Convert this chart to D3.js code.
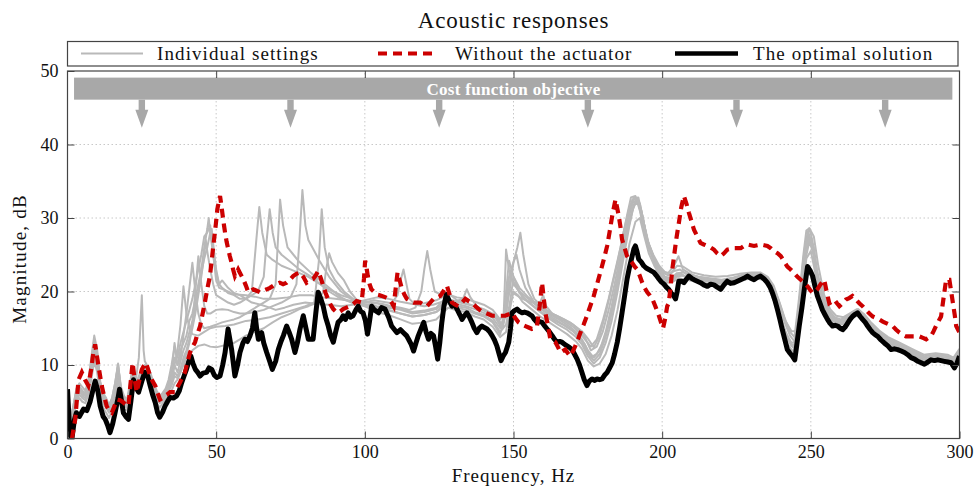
<!DOCTYPE html>
<html>
<head>
<meta charset="utf-8">
<script src="https://cdn.jsdelivr.net/npm/d3@7"></script>
<style>
  body { margin: 0; background: #fff; }
  svg text { font-family: "Liberation Serif", "DejaVu Serif", serif; fill: #111; }
</style>
</head>
<body>
<svg id="chart" width="974" height="488"></svg>
<script>
// ---- data ----
const xTicks = [0, 50, 100, 150, 200, 250, 300];
const yTicks = [0, 10, 20, 30, 40, 50];
const legendLabels = ["Individual settings", "Without the actuator", "The optimal solution"];
const costLabel = "Cost function objective";
const costBand = [2.2, 297.6];      // Hz
const costLevel = [46.1, 49.1];     // dB
const costArrows = [25, 75, 125, 175, 225, 275];

// the optimal solution [Hz, dB]
const optimal = [[0,6.7],[0.8,0.5],[1.5,0],[2.3,2.5],[3,3.5],[4,3],[5.4,4],[6.5,3.8],[7.6,5],[8.5,6.5],[9.3,7.8],[10.2,6.5],[11,4.4],[12,3],[12.7,2.6],[13.5,1.8],[14.3,0.8],[15.2,2],[16,3.5],[17,5.5],[17.5,6.7],[18.2,5],[18.8,3.5],[19.6,3],[20.5,2.6],[21.3,5],[22.2,8],[23,7],[23.9,6.3],[25,7.8],[26,9],[27,8.5],[27.8,7.2],[28.6,6],[29.5,4.9],[30.3,3.5],[31,2.9],[32,3.6],[32.8,4.4],[33.6,5],[34.5,5.6],[35.6,5.5],[36.7,5.8],[37.6,6.5],[38.4,7.6],[39.2,8.5],[40,9.4],[40.8,10.5],[41.5,11.2],[42.2,10.2],[43,9.4],[43.8,9],[44.6,8.5],[45.6,8.9],[46.8,9],[47.6,9.6],[48.5,9.4],[49.4,8.6],[50.2,8.3],[51.3,8.5],[52.2,10],[53,11.7],[54,14.9],[55.2,12.1],[56.3,8.5],[57.2,10],[58,11.7],[59,13],[59.7,13.5],[60.5,13.2],[61.4,14],[62.2,15],[63,17.1],[63.6,15],[64.2,13.5],[65.3,14.4],[66,13],[67,11.7],[68,10.5],[68.9,9.4],[70,10.5],[70.9,12.1],[71.8,13.2],[72.6,14],[73.7,15.3],[74.5,14.5],[75.4,13.5],[76.5,11.7],[77.3,13],[78.2,14.9],[79.3,16.7],[80.2,15],[81,13.5],[82.6,13.5],[83.5,17],[84.3,19.9],[85.2,19],[86,18],[86.8,16.5],[87.7,15.3],[88.5,14],[89.4,13.1],[90.2,14.5],[91,15.8],[92,16.2],[92.7,16.7],[93.5,16.2],[94.4,17.1],[95.2,16.5],[96,16.7],[97,17.5],[97.8,18],[98.6,17.3],[99.4,17.1],[100.2,16],[100.9,14.2],[101.6,16],[102.3,18],[103.2,17.5],[104.6,17.1],[105.6,17.8],[106.8,17.6],[108,16.5],[109,15.3],[110,14.8],[110.8,14.4],[112,14.8],[113,14.4],[114,14],[114.7,13.5],[115.6,12.8],[116.4,11.9],[117.2,13],[118,14],[119,15],[119.8,15.8],[120.6,14.5],[121.4,13.5],[122.2,14.3],[123.1,14],[123.8,12.5],[124.5,10.8],[125.2,13],[125.9,15.8],[126.6,18],[127.4,19.6],[128.3,18.8],[129.3,18],[130.2,18.2],[131,17.6],[132,16.8],[132.7,16.2],[133.5,16.7],[134.3,17.1],[135.2,16.5],[136,15.8],[136.8,15],[137.7,14.4],[138.5,15],[139.4,15.3],[140.2,15.1],[141.1,14.9],[142,14.5],[142.8,14],[143.6,13.4],[144.4,12.6],[145.1,11.6],[145.8,10.6],[146.5,11.2],[147.3,11.7],[148.4,13.1],[149,15],[149.5,17.1],[150.3,17.4],[151.2,17.6],[152,17.3],[152.9,17.1],[153.7,17.2],[154.5,17.1],[155.4,16.9],[156.2,16.7],[157,16.2],[157.9,15.8],[158.8,15.9],[159.6,15.8],[160.5,15.3],[161.3,14.9],[162.1,14.5],[163,14],[163.8,13.5],[164.6,13.1],[165.5,13.2],[166.3,13.1],[167.2,12.8],[168,12.6],[168.8,12.4],[169.7,12.1],[170.5,11.5],[171.4,10.8],[172.2,10],[173,9],[173.8,8],[174.7,7.2],[175.5,7.8],[176.4,8.1],[177.2,7.9],[178.1,8.1],[179,8],[179.8,8.1],[180.6,8.6],[181.5,9],[182.3,9.6],[183.2,10.3],[184,11.5],[184.9,13.1],[185.7,15],[186.5,17.1],[187.4,19.5],[188.2,21.7],[189,23.3],[189.9,24.8],[190.5,25.8],[191,26.2],[191.5,25.5],[192.1,24.4],[193,24],[193.8,23.5],[194.6,23.2],[195.5,23],[196.3,22.8],[197.2,22.6],[198,22.2],[198.9,21.7],[199.7,21.3],[200.6,21],[201.4,20.6],[202.2,20.3],[203,19.8],[203.9,19.4],[204.5,19],[205,19.9],[205.6,21.4],[206.5,21.4],[207.3,21.2],[208.2,21.7],[209,22.1],[209.9,21.8],[210.7,21.6],[211.8,21.4],[212.9,21.2],[214,20.9],[215.2,20.7],[216.3,21],[217.4,20.9],[218.5,20.6],[219.7,20.3],[220.8,20.9],[221.9,21.4],[223,21.1],[224.2,21.2],[225.3,21.4],[226.4,21.6],[227.5,21.8],[228.7,22.1],[229.8,21.8],[230.9,21.6],[232,21.9],[233.1,22.1],[234.3,21.7],[235.4,21.2],[236.3,20.6],[237.1,19.8],[238,18.7],[238.8,17.5],[239.6,16.2],[240.4,14.8],[241.3,13.4],[242.1,12.1],[243,11.6],[243.8,11.2],[244.6,10.7],[245.3,12.8],[246.1,15.3],[247,17.8],[247.8,20.3],[248.4,22],[248.9,23.4],[249.8,22.8],[250.6,22.1],[251.4,20.7],[252.2,19.4],[253.1,18.4],[253.9,17.5],[254.8,16.8],[255.6,16.2],[256.4,15.7],[257.3,15.3],[258.2,15.4],[259,15.3],[259.9,15],[260.7,14.8],[261.6,15.2],[262.4,15.7],[263.2,16.2],[264,16.6],[264.9,16.9],[265.7,17.1],[266.6,16.6],[267.4,16.2],[268.3,15.8],[269.1,15.3],[270,14.8],[270.8,14.4],[271.7,14.1],[272.5,13.9],[273.6,13.4],[274.7,13],[275.9,12.6],[277,12.1],[278.1,12.2],[279.2,12.1],[280.4,11.9],[281.5,11.7],[282.6,11.4],[283.7,11],[284.9,10.8],[286,10.5],[287.1,10.3],[288.2,10.1],[289.3,10.4],[290.4,10.7],[291.6,10.6],[292.7,10.7],[293.8,10.6],[294.9,10.5],[296.1,10.4],[297.2,10.3],[298.3,9.6],[299.2,10.3],[300,11.2]];

// without the actuator [Hz, dB]
const without = [[1.5,0],[2.6,2.6],[3.2,5.5],[3.7,8],[4.8,9],[5.9,8],[7,7.2],[8,9.5],[8.7,11.7],[9.3,12.8],[10.4,9.9],[11.5,7.2],[12.3,5.8],[13.2,4.4],[14,3.8],[14.9,3.5],[15.8,4.4],[16.6,5.3],[17.7,5.2],[18.8,4.9],[19.6,4.6],[20.5,4.4],[21.2,7.5],[21.9,10.3],[22.6,8],[23.3,6.3],[24.2,8],[25,9.4],[25.7,9.9],[26.4,10.3],[27.1,9.4],[27.8,8.5],[28.6,7.8],[29.5,7.2],[30.3,6.2],[31.1,5.3],[32,5.5],[32.8,5.8],[33.6,6],[34.5,6.3],[35.4,6.3],[36.2,6.3],[37,7],[37.8,7.6],[38.6,8.3],[39.5,9],[40.3,10.3],[41.2,11.7],[42,12.4],[42.9,13.1],[43.7,14.2],[44.6,15.3],[45.4,16.9],[46.2,18.5],[47,20.3],[47.9,22.1],[48.6,24.6],[49.3,27.1],[49.9,29.2],[50.4,31.2],[50.9,32.2],[51.3,33],[51.8,31.6],[52.2,30.3],[52.6,29.1],[53,28],[53.5,26.8],[54.1,25.7],[54.6,24.8],[55.2,23.9],[55.7,23],[56.3,22.1],[56.9,22.6],[57.4,23],[58.3,22.3],[59.1,21.7],[60,20.8],[60.8,19.9],[61.6,20.1],[62.5,20.3],[63.6,20.1],[64.7,19.9],[65.8,20.1],[67,20.3],[68.1,20.5],[69.2,20.8],[70.3,21],[71.4,21.2],[72.5,21],[73.7,21.2],[74.8,21.6],[75.9,22.1],[77,22.4],[78.2,22.6],[79.3,22],[80.4,21.2],[81.5,21.5],[82.6,21.7],[83.5,22.2],[84.3,22.8],[85.2,21.8],[86,20.8],[86.8,19.8],[87.7,18.9],[88.5,18.2],[89.4,17.6],[90.2,17.3],[91,17.1],[91.8,17.3],[92.7,17.6],[93.8,17.8],[95,18],[96.1,18.3],[97.2,18.7],[98,18.6],[98.9,18.5],[99.3,20],[99.7,21.7],[100.1,24.2],[100.5,23.5],[101,22.1],[101.6,21],[102.2,20.3],[103,20],[104,19.6],[105,19.5],[105.7,19.4],[107,19.2],[108,19],[109,18.5],[109.7,18],[110.4,20.5],[111,22.6],[111.8,21.4],[112.5,20.3],[113.3,19.6],[114.1,19],[115.3,18.7],[116.4,18.5],[117.5,18.5],[118.6,18.5],[119.8,18.2],[120.9,18],[122,18.5],[123.1,19],[124.2,19.2],[125.4,19.4],[126.5,20.1],[127.6,20.8],[128.5,19.6],[129.3,18.5],[130.4,18.2],[131.5,18],[132.7,18.5],[133.8,19],[134.9,18.7],[136,18.5],[137.2,18],[138.3,17.6],[139.4,17.3],[140.5,17.1],[141.7,16.9],[142.8,16.7],[143.9,16.7],[145,16.7],[146.1,16.7],[147.2,16.7],[148.4,16.9],[149.5,17.1],[150.6,16.4],[151.7,15.8],[152.9,15.5],[154,15.3],[155.1,15.1],[156.2,14.9],[157.1,15],[157.9,15.3],[158.8,18],[159.6,21.2],[160.2,19],[160.7,17.1],[161.6,15.3],[162.4,13.5],[163.3,13.3],[164.1,13.1],[165,12.4],[165.8,11.7],[166.6,11.9],[167.4,12.1],[168.3,11.6],[169.1,11.2],[170,11.9],[170.8,12.6],[171.7,13.5],[172.5,14.4],[173.6,15.5],[174.7,16.7],[175.8,18],[177,19.4],[178.1,21],[179.2,22.6],[180.4,24.4],[181.5,26.2],[182.4,28.3],[183.2,30.3],[183.8,31.5],[184.3,32.5],[184.8,31.5],[185.4,30.3],[186,28.7],[186.5,27.1],[187.4,25.9],[188.2,24.8],[189,24.3],[189.9,23.9],[190.7,23.4],[191.6,23],[192.5,22.1],[193.3,21.2],[194.1,20.5],[195,19.9],[195.8,19.5],[196.7,19],[197.8,17.9],[198.9,16.7],[199.6,15.8],[200.3,15],[201,16.3],[201.7,18],[202.2,18.4],[202.8,20.5],[203.4,23],[204,24.8],[204.7,27],[205.6,29.3],[206.4,31.4],[207.3,33],[208.2,31.9],[209,30.7],[209.9,29.5],[210.7,28.4],[211.8,27.5],[212.9,26.6],[214,26.4],[215.2,26.2],[216.3,26],[217.4,25.7],[218.5,25.2],[219.7,24.8],[220.8,25.2],[221.9,25.7],[223,25.8],[224.2,25.9],[225.3,25.9],[226.4,25.9],[227.5,26.2],[228.7,26.4],[229.8,26.3],[230.9,26.2],[232,26.3],[233.1,26.4],[234.3,26.3],[235.4,26.2],[236.5,25.9],[237.6,25.5],[238.8,25.2],[239.9,24.8],[241,24.1],[242.1,23.4],[243.2,23],[244.4,22.5],[245.5,22],[246.6,21.6],[247.7,21.2],[248.9,20.7],[249.8,20.2],[250.6,19.8],[251.4,20],[252.2,20.3],[253.3,21],[254.5,21.6],[255.3,20],[256.2,18.4],[257,18.6],[257.9,18.9],[258.8,18.4],[259.6,18],[260.7,18.4],[261.8,18.9],[262.9,19.1],[264,19.4],[265.2,18.9],[266.3,18.4],[267.4,18],[268.5,17.5],[269.7,17],[270.8,16.6],[271.9,16.4],[273,16.2],[274.2,15.9],[275.3,15.7],[276.4,15.5],[277.5,15.3],[278.7,14.8],[279.8,14.4],[280.9,14.1],[282,13.9],[283.2,13.9],[284.3,13.9],[285.4,13.9],[286.5,13.9],[287.7,13.7],[288.8,13.5],[289.6,13.7],[290.4,13.9],[291.3,14.6],[292.1,15.3],[293,16],[293.8,16.6],[294.6,19],[295.5,21.6],[296.6,21.6],[297.2,20],[297.8,18.4],[298.4,16.8],[298.9,15.3],[300,14.4]];

// individual settings [Hz, dB]
const setting1 = [[0,5],[1,2.5],[2,4.5],[3,6.5],[4,7],[5,6.5],[6,6.2],[7,7.5],[8,10.5],[9,13.5],[10,11.5],[11,7.5],[12,6],[13,5.2],[14,4.2],[15,5],[16,7],[17,10],[18,6.5],[19,5.5],[20,5],[21,7],[22,9.5],[23,7.5],[24,8.5],[25,9.5],[26,10],[27,9.5],[28,8.5],[29,7.2],[30,6.2],[31,5.5],[32,6],[33,6.5],[34,7.5],[35,9],[36,11],[37,10],[38,12],[39,13],[40,14],[41,16],[42,17],[43,19],[44,21],[45,23],[46,26],[47,28.5],[47.5,30],[48,28],[49,25],[50,22.5],[51,21],[52,21.5],[54,20.5],[56,19.8],[58,19.5],[60,19],[62,18.5],[65,18.2],[68,17.8],[70,17.5],[73,17.8],[76,18.2],[80,18.5],[84,18.3],[88,18.2],[92,18],[96,18.2],[100,18.5],[103,18.8],[106,18.6],[109,18.4],[111,19.5],[112,21.5],[113,23],[114,21],[115,19],[117,18.2],[120,18],[123,18.2],[126,18.6],[128,19],[131,18.6],[134,18.3],[137,18],[140,17.5],[143,16.8],[145,16],[146.5,15],[147,20],[147.5,25.7],[148.5,23],[150,21],[152,20],[155,19],[158,18],[161,17.2],[164,16.5],[167,16],[170,15.2],[172,14.5],[174,13.5],[176,12.5],[178,13.5],[180,16],[182,19],[184,22.5],[186,26],[188,30],[189.5,32.8],[191,33],[192.5,31],[194,28],[196,25.5],[198,24],[200,22.8],[202,22.5],[204,23.5],[205.5,24.8],[207,23],[209,22.5],[212,22],[216,21.8],[220,21.6],[224,21.9],[228,22.4],[232,22.5],[235,22],[237,21],[239,19],[241,16.5],[243,14.5],[244.5,13.8],[246,19],[247.5,25],[248.5,28.3],[249.5,28.6],[250.5,27],[252,23],[254,19.5],[256,17.5],[258,16.5],[260,16.2],[262,16.5],[264,17.2],[266,17.6],[268,16.8],[270,15.8],[273,14.6],[276,13.6],[280,12.8],[284,12],[288,11.2],[292,11.4],[296,11.2],[298,10.8],[300,12]];
const setting2 = [[0,4],[1,1.5],[2,4],[3,6],[4,6.8],[5,6],[6,5.8],[7,7],[8,9.5],[9,12.5],[10,10.8],[11,7],[12,5.5],[13,4.8],[14,4],[15,4.8],[16,6.5],[17,9],[18,6],[19,5],[20,4.6],[21,6.5],[22,9],[23,7],[24,8],[25,9],[26,9.5],[27,9],[28,8],[29,7],[30,6],[31,5.2],[32,5.6],[33,6.2],[34,7],[35,8],[36,10],[37,9],[38,10.5],[39,12],[40,13],[41,14.5],[42,16],[43,18],[44,20],[45,22.5],[46,24.5],[47,26],[48,28],[48.5,28.5],[49,26.5],[50,23],[51,21],[52,20.5],[54,19.8],[56,19.5],[58,19],[60,19],[62,20],[63.5,27],[64.5,31.5],[65.5,28],[67,25],[69,24.3],[72,23.5],[75,23],[78,22.5],[81,22],[85,21],[88,20.3],[92,19.5],[96,19],[100,18.6],[103,18.5],[106,18.3],[109,18],[112,17.8],[115,17.5],[117,17.8],[119,20],[120,23],[121,25.5],[122,23],[123.5,20],[126,19.5],[128,19.8],[131,18.8],[134,18.4],[137,18],[140,17.6],[143,17],[145,16.2],[146.5,15.2],[147.3,19],[148.5,24.2],[150,22],[152,20.5],[155,19.2],[158,18.2],[161,17.5],[164,16.8],[167,16.2],[170,15.5],[172,14.8],[174,13.8],[176,12],[178,12.5],[180,14.5],[182,17.5],[184,21],[186,25],[188,29],[190,32.5],[191.5,32.8],[193,30.5],[194.5,27.5],[196,25.5],[198,24],[200,22.6],[202,22.2],[204,22.8],[206,23],[208,22.4],[212,22],[216,21.7],[220,21.5],[224,21.8],[228,22.3],[232,22.4],[235,21.8],[237,20.5],[239,18.5],[241,16],[243,14],[244.5,13.2],[246,18],[247.5,24.5],[249,28.2],[250.5,26.5],[252,22.5],[254,19],[256,17.2],[258,16.3],[260,16],[262,16.4],[264,17],[266,17.4],[268,16.6],[270,15.6],[273,14.4],[276,13.4],[280,12.6],[284,11.8],[288,11],[292,11.2],[296,11],[298,10.6],[300,11.8]];
const setting3 = [[0,3.5],[1,1],[2,3.5],[3,5.5],[4,6.5],[5,5.8],[6,5.5],[7,6.5],[8,9],[9,12],[10,10],[11,6.5],[12,5],[13,4.5],[14,3.8],[15,4.5],[16,6],[17,8.5],[18,5.5],[19,4.8],[20,4.4],[21,6],[22,8.5],[23,6.8],[24,7.6],[25,8.6],[26,9.2],[27,8.6],[28,7.6],[29,6.6],[30,5.6],[31,5],[32,5.4],[33,6],[34,6.6],[35,7.5],[36,9],[37,8.5],[38,9.5],[39,11],[40,12],[41,13.5],[42,15],[43,17],[44,19.5],[45,22],[46,25],[46.5,27],[47,25.5],[48,23],[49,21],[50,19.5],[52,19],[54,18.5],[56,18.2],[58,18.5],[60,19],[62,19.5],[64,20],[66,22],[67,27],[68,31.2],[69,28],[70,26],[72,25],[75,24],[78,23],[82,22],[85,21],[88,20],[92,19],[96,18.5],[100,18.2],[104,18.4],[108,18],[112,17.6],[116,17.2],[120,17.4],[124,17.8],[127,19],[130,18.6],[133,19],[134.3,20.3],[135.5,19.2],[138,17.8],[141,17.2],[144,16.4],[146,15],[147.5,17],[149,22],[150.5,21],[152,19.8],[155,18.6],[158,17.6],[161,16.8],[164,16],[167,15.4],[170,14.6],[172,13.8],[174,12.8],[176,11],[178,11.5],[180,13],[182,15.5],[184,19],[186,23],[188,27.5],[190,31],[191.5,32.5],[193,31],[194.5,28],[196,25.5],[198,23.5],[200,22],[202,21.5],[204,22],[206,22.5],[208,22],[212,21.8],[216,21.5],[220,21.2],[224,21.6],[228,22.2],[232,22.2],[235,21.5],[237,20],[239,17.5],[241,15],[243,13],[244.5,12.5],[246,17],[247.5,23.5],[249,27.5],[250.5,26],[252,22],[254,18.6],[256,16.8],[258,16],[260,15.8],[262,16.2],[264,16.8],[266,17.2],[268,16.4],[270,15.4],[273,14.2],[276,13.2],[280,12.4],[284,11.6],[288,10.8],[292,11],[296,10.8],[298,10.4],[300,11.6]];
const setting4 = [[0,3],[1,0.5],[2,3],[3,5],[4,6],[5,5.5],[6,5.2],[7,6.2],[8,8.5],[9,11.5],[10,9.5],[11,6],[12,4.8],[13,4.2],[14,3.5],[15,4.2],[16,5.6],[17,8],[18,5.2],[19,4.5],[20,4.2],[21,5.8],[22,8.2],[23,6.5],[24,7.4],[25,8.4],[26,9],[27,8.4],[28,7.4],[29,6.4],[30,5.4],[31,4.8],[32,5.2],[33,5.8],[34,6.4],[35,7.2],[36,8.5],[37,8.2],[38,9],[39,10.5],[40,11.5],[41,13],[42,15.5],[43,20],[44,24.8],[45,21],[46,18],[47,17],[48,17],[50,17.5],[52,17.6],[54,17.5],[56,17.2],[58,17],[60,17],[62,17.5],[64,18],[66,18.5],[68,19],[70,21],[71.5,32.5],[72.5,29],[74,26],[76,25],[78,24],[82,22.5],[85,21.5],[88,20.5],[92,19.2],[96,18.4],[100,18],[104,17.8],[108,17.5],[112,17],[116,16.6],[120,16.8],[124,17.2],[128,18.6],[131,18],[134,17.8],[137,17.2],[140,16.8],[143,16],[145.5,14.5],[147.5,15.5],[149,19],[150,22],[151.5,20.5],[153,19.2],[156,18.2],[159,17.2],[162,16.3],[165,15.5],[168,14.8],[171,13.8],[173,12.8],[175,11.2],[177,10.2],[179,11],[181,13],[183,16],[185,20],[187,24.5],[189,29],[190.5,31.8],[192,32],[193.5,29.5],[195,26.5],[197,24.3],[199,22.6],[201,21.5],[203,21.4],[205,22],[207,22.2],[210,21.8],[214,21.5],[218,21.2],[222,21.4],[226,21.8],[230,22],[233,22],[235.5,21],[237.5,19.2],[239.5,16.8],[241.5,14.2],[243.5,12.6],[245,12.8],[246.5,18],[248,24],[249.5,26.8],[251,25],[252.5,21],[254.5,18],[256.5,16.4],[258.5,15.8],[261,15.7],[263,16.3],[265.5,17],[268,16.2],[270,15.2],[273,14],[276,13],[280,12.2],[284,11.4],[288,10.7],[292,10.9],[296,10.7],[298,10.3],[300,11.4]];
const setting5 = [[0,4.5],[1,2],[2,4],[3,6],[4,7],[5,6.3],[6,6],[7,7.2],[8,10],[9,13],[10,11],[11,7.2],[12,5.8],[13,5],[14,4.5],[15,5.5],[16,7.5],[17,10.2],[18,6.5],[19,5.5],[20,5],[21,6.8],[22,9],[23,7.2],[24,8.2],[25,9.2],[26,9.8],[27,9.2],[28,8.2],[29,7],[30,6],[31,5.4],[32,5.8],[33,6.4],[34,7.2],[35,8.5],[36,13],[37,10],[38,11],[39,14],[40,17],[41,20.5],[42,23.9],[43,20],[44,17],[45,15.5],[46,15],[48,15.2],[50,15.5],[52,15.8],[54,16],[56,16.2],[58,16.5],[60,17],[63,17.2],[66,17.5],[69,18],[72,18.5],[75,19.2],[77,21],[78,27],[79,33.8],[80,29],[81,27],[83,25.5],[85,24],[88,22],[92,20],[96,18.8],[100,18.3],[104,18],[108,17.8],[112,17.5],[116,17],[120,17.2],[124,17.6],[128,18.8],[131,18.3],[134,18],[137,17.6],[140,17.1],[143,16.4],[145.5,15],[147,17],[148.5,22],[150,24],[151.3,26],[152.3,28],[153.3,25],[155,21],[157,19],[160,17.8],[163,16.8],[166,16],[169,15.2],[171,14.5],[173,13.5],[175,12],[177,11],[179,12],[181,14.5],[183,18],[185,22],[187,26.5],[189,30.5],[190.5,32.5],[192,32.8],[193.5,30],[195,27],[197,24.8],[199,23],[201,22],[203,21.8],[205,22.5],[207,22.6],[210,22.2],[214,21.8],[218,21.4],[222,21.6],[226,22],[230,22.3],[233,22.2],[235.5,21.2],[237.5,19.5],[239.5,17],[241.5,14.5],[243.5,13],[245,13.2],[246.5,18.5],[248,25],[249.5,27.5],[251,26],[252.5,21.5],[254.5,18.3],[256.5,16.6],[258.5,16],[261,15.9],[263,16.5],[265.5,17.2],[268,16.4],[270,15.4],[273,14.2],[276,13.2],[280,12.4],[284,11.6],[288,10.9],[292,11.1],[296,10.9],[298,10.5],[300,11.6]];
const setting6 = [[0,5.5],[1,2],[2,4.2],[3,6.2],[4,7],[5,6.4],[6,6],[7,7.2],[8,10],[9,12.8],[10,10.8],[11,7],[12,5.6],[13,4.8],[14,4],[15,5],[16,6.8],[17,9.5],[18,6],[19,5.2],[20,4.8],[21,6.5],[22,8.8],[23,7],[24,8],[25,9],[26,9.5],[27,9],[28,8],[29,6.8],[30,5.8],[31,5.2],[32,5.6],[33,6.2],[34,7],[35,8],[36,10],[37,12],[38,15.5],[39,20.7],[40,17],[41,15],[42,14.2],[44,14],[46,14.5],[48,15],[50,15.2],[53,15.3],[56,15.5],[60,16],[64,16.2],[68,16.5],[72,17],[76,17.5],[80,18],[83,18.5],[84.5,24],[85.5,31.2],[86.5,26],[88,23],[90,21.5],[93,20],[96,19],[100,18.2],[104,17.8],[108,17.4],[112,17],[116,16.6],[120,16.8],[124,17.2],[128,18.4],[131,17.8],[134,17.5],[137,17],[140,16.6],[143,15.8],[145.5,14.2],[147.5,17],[149,21],[150,24],[151,25],[152,23],[154,20.5],[157,18.5],[160,17.4],[163,16.5],[166,15.7],[169,15],[171,14.2],[173,13.2],[175,11.6],[177,10.6],[179,11.5],[181,13.8],[183,17],[185,21],[187,25.5],[189,29.8],[191,32.4],[192.5,32],[194,29],[195.5,26.5],[197.5,24.3],[199.5,22.6],[201.5,21.7],[203.5,21.8],[205.5,22.3],[208,22],[211,21.7],[215,21.4],[219,21.1],[223,21.5],[227,21.9],[231,22.1],[234,21.9],[236,20.8],[238,18.6],[240,16],[242,13.6],[244,12.4],[245.5,14],[247,21],[248.5,26.5],[250,27.2],[251.5,24],[253,20],[255,17.4],[257,16.2],[259,15.8],[261.5,15.8],[263.5,16.5],[265.5,17],[268,16.1],[270,15.1],[273,13.9],[276,12.9],[280,12.1],[284,11.3],[288,10.6],[292,10.8],[296,10.6],[298,10.2],[300,11.3]];
const setting7 = [[0,3],[1,1],[2,3],[3,4.8],[4,5.5],[5,5],[6,4.8],[7,6],[8,8],[9,10.5],[10,9],[11,5.5],[12,4.2],[13,3.5],[14,2.8],[15,3.8],[16,5],[17,7.5],[18,4.8],[19,4],[20,3.8],[21,5.5],[22,8],[23,6.5],[24,7.2],[25,8.2],[26,9],[27,8.2],[28,7],[29,5.8],[30,4.8],[31,4.2],[32,4.8],[33,5.4],[34,5.9],[35,6.5],[36,7.5],[37,8],[38,9],[39,10],[40,11],[42,12],[44,12.6],[46,12.8],[48,12.5],[50,12.4],[52,12.6],[54,12.8],[56,13],[58,13.5],[60,14],[63,14.5],[66,15],[69,15.8],[72,16.5],[75,17],[78,17.6],[81,18],[84,18.5],[86,20],[87,23],[88,25.2],[89,24],[91,22.5],[93,21.5],[95,20],[97,19],[100,18],[104,17.2],[108,16.8],[112,16.2],[116,15.6],[120,15.8],[124,16.2],[128,17.8],[131,17.4],[134,17.2],[137,16.6],[140,16.2],[143,15.2],[145.5,13.8],[147.5,14.5],[149,18],[150,20],[151.5,19.5],[153,18.6],[156,17.6],[159,16.6],[162,15.8],[165,15],[168,14.2],[171,13.2],[173,12.2],[175,10.6],[177,9.8],[179,10.2],[181,11.5],[183,14],[185,17.5],[187,22],[189,26.5],[191,29.5],[192.5,30],[194,27.5],[195.5,25.2],[197.5,23.4],[199.5,22],[201.5,21.2],[203.5,21.3],[205.5,21.8],[208,21.6],[211,21.4],[215,21.1],[219,20.8],[223,21.2],[227,21.6],[231,21.8],[234,21.6],[236,20.4],[238,18.2],[240,15.5],[242,13],[244,11.8],[245.5,13.2],[247,19],[248.5,24.5],[250,25.5],[251.5,22.5],[253,19.2],[255,17],[257,16],[259,15.6],[261.5,15.5],[263.5,16.2],[265.5,16.8],[268,15.9],[270,14.9],[273,13.7],[276,12.7],[280,11.9],[284,11.1],[288,10.4],[292,10.6],[296,10.5],[298,10],[300,11.2]];
const setting8 = [[0,6],[1,2.5],[2,4.5],[3,6.8],[4,7.5],[5,7],[6,6.5],[7,7.8],[8,11],[9,14],[10,12],[11,7.8],[12,6.2],[13,5.5],[14,4.5],[15,5.5],[16,7.5],[17,10],[18,7],[19,5.8],[20,5.2],[21,7.5],[22,9.8],[23,8],[24,11],[25,19.5],[25.6,12],[26,10.5],[27,9.8],[28,8.8],[29,7.5],[30,6.5],[31,5.8],[32,6.2],[33,6.8],[34,8],[35,10],[36,12.5],[37,11],[38,13],[39,14.5],[40,16],[41,17.5],[42,19],[43,21],[44,23],[45,25],[46,27.5],[47,28],[48,29],[49,25],[50,21.5],[51,20.5],[53,20.2],[55,19.8],[57,19.6],[60,19.5],[63,19.3],[66,19],[70,19],[74,19.2],[78,19.5],[82,19.5],[86,19.2],[90,19],[94,18.8],[98,18.6],[100,18.8],[104,19.2],[108,19],[112,18.6],[116,18.3],[120,18.4],[124,18.8],[128,19.6],[131,19.2],[134,19],[137,18.6],[140,18.2],[143,17.5],[145.5,16.2],[147,17],[148,21],[149,20],[151,19.5],[153,19],[156,18.5],[159,18.6],[160,19.5],[161,18],[163,17],[166,16.4],[169,15.8],[171,15.2],[173,14.6],[175,13.6],[177,12.4],[179,14],[181,17],[183,20.5],[185,24],[187,28],[189,31.5],[190.5,32.8],[192,32.2],[193.5,30],[195,27],[197,25],[199,23.5],[201,22.6],[203,22.5],[205,23.5],[207,23.4],[210,22.6],[214,22.2],[218,22],[222,22.1],[226,22.4],[230,22.6],[233,22.6],[235.5,22],[237.5,20.8],[239.5,18.5],[241.5,16],[243.5,14.6],[245,14.6],[246.5,20],[248,26],[249.5,28.6],[251,27.5],[252.5,23.5],[254.5,19.5],[256.5,17.6],[258.5,16.7],[261,16.5],[263,17],[265.5,17.6],[268,16.9],[270,15.9],[273,14.7],[276,13.8],[280,13],[284,12.2],[288,11.4],[292,11.6],[296,11.4],[298,11],[300,12.2]];
const settings = [setting1, setting2, setting3, setting4, setting5, setting6, setting7, setting8];

// ---- layout ----
const svg = d3.select("#chart");
const x = d3.scaleLinear().domain([0, 300]).range([67.5, 959.5]);
const y = d3.scaleLinear().domain([0, 50]).range([438.5, 71]);
const frameColor = "#444";

svg.append("defs").append("clipPath").attr("id", "plotClip")
  .append("rect")
  .attr("x", x(0)).attr("y", y(50))
  .attr("width", x(300) - x(0)).attr("height", y(0) - y(50));

// grid
const grid = svg.append("g").attr("class", "grid");
grid.selectAll("line.vx").data(xTicks.slice(1, -1)).enter().append("line")
  .attr("x1", d => x(d)).attr("x2", d => x(d))
  .attr("y1", y(0)).attr("y2", y(50))
  .attr("stroke", "#c8c8c8").attr("stroke-width", 1).attr("stroke-dasharray", "1.5,2.5");
grid.selectAll("line.hy").data(yTicks.slice(1, -1)).enter().append("line")
  .attr("x1", x(0)).attr("x2", x(300))
  .attr("y1", d => y(d)).attr("y2", d => y(d))
  .attr("stroke", "#c8c8c8").attr("stroke-width", 1).attr("stroke-dasharray", "1.5,2.5");

// cost function objective band
const cost = svg.append("g").attr("class", "cost");
cost.append("rect")
  .attr("x", x(costBand[0])).attr("y", y(costLevel[1]))
  .attr("width", x(costBand[1]) - x(costBand[0]))
  .attr("height", y(costLevel[0]) - y(costLevel[1]))
  .attr("fill", "#a8a8a8");
cost.append("text")
  .attr("x", x(150)).attr("y", y(costLevel[0]) - 5)
  .attr("text-anchor", "middle")
  .style("font-weight", "bold").style("font-size", "17px").style("letter-spacing", "0.3px")
  .style("fill", "#fff")
  .text(costLabel);
cost.selectAll("path.arrow").data(costArrows).enter().append("path")
  .attr("class", "arrow")
  .attr("fill", "#a8a8a8")
  .attr("d", d => {
    const cx = x(d), top = y(costLevel[0]);
    return `M${cx - 3.2},${top} L${cx + 3.2},${top} L${cx + 3.2},${top + 10} L${cx + 6.5},${top + 10}`
      + ` L${cx},${top + 28} L${cx - 6.5},${top + 10} L${cx - 3.2},${top + 10} Z`;
  });

// curves
const line = d3.line().x(d => x(d[0])).y(d => y(d[1]));
const curves = svg.append("g").attr("clip-path", "url(#plotClip)");

curves.selectAll("path.setting").data(settings).enter().append("path")
  .attr("class", "setting")
  .attr("d", line)
  .attr("fill", "none").attr("stroke", "#b9b9b9").attr("stroke-width", 2)
  .attr("stroke-linejoin", "round");

curves.append("path").datum(optimal)
  .attr("d", line)
  .attr("fill", "none").attr("stroke", "#000").attr("stroke-width", 5)
  .attr("stroke-linejoin", "round");

curves.append("path").datum(without)
  .attr("d", line)
  .attr("fill", "none").attr("stroke", "#cc0000").attr("stroke-width", 4.2)
  .attr("stroke-dasharray", "9,6");

// axes (ticks pointing inwards)
const xAxis = d3.axisBottom(x).tickValues(xTicks).tickSize(-7).tickPadding(7);
const yAxis = d3.axisLeft(y).tickValues(yTicks).tickSize(-7).tickPadding(9);

function styleAxis(g) {
  g.select(".domain").remove();
  g.selectAll(".tick line").attr("stroke", frameColor);
  g.selectAll(".tick text").style("font-size", "18px").style("font-family", '"Liberation Serif", serif').attr("fill", "#111");
}

svg.append("g").attr("transform", `translate(0,${y(0)})`).call(xAxis).call(styleAxis);
svg.append("g").attr("transform", `translate(${x(0)},0)`).call(yAxis).call(styleAxis);
svg.append("g").attr("transform", `translate(0,${y(50)})`)
  .call(d3.axisTop(x).tickValues(xTicks.slice(1, -1)).tickSize(-7).tickFormat(""))
  .call(styleAxis);
svg.append("g").attr("transform", `translate(${x(300)},0)`)
  .call(d3.axisRight(y).tickValues(yTicks.slice(1, -1)).tickSize(-7).tickFormat(""))
  .call(styleAxis);

// frame
svg.append("rect")
  .attr("x", x(0)).attr("y", y(50))
  .attr("width", x(300) - x(0)).attr("height", y(0) - y(50))
  .attr("fill", "none").attr("stroke", frameColor).attr("stroke-width", 1.2);

// title and axis labels
svg.append("text").attr("x", x(150)).attr("y", 28)
  .attr("text-anchor", "middle").style("font-size", "23px").style("letter-spacing", "0.8px")
  .text("Acoustic responses");
svg.append("text").attr("x", x(150)).attr("y", 482)
  .attr("text-anchor", "middle").style("font-size", "19px").style("letter-spacing", "1px")
  .text("Frequency, Hz");
svg.append("text").attr("transform", `translate(26,259) rotate(-90)`)
  .attr("text-anchor", "middle").style("font-size", "19px").style("letter-spacing", "1.2px")
  .text("Magnitude, dB");

// legend
const legend = svg.append("g").attr("class", "legend");
legend.append("rect")
  .attr("x", x(0)).attr("y", 41.5)
  .attr("width", x(300) - x(0) - 1.5).attr("height", 24.5)
  .attr("fill", "#fff").attr("stroke", frameColor).attr("stroke-width", 1.2);

const legendItems = [
  { label: legendLabels[0], x0: 81, x1: 143, tx: 157, stroke: "#b9b9b9", width: 2, dash: null },
  { label: legendLabels[1], x0: 378, x1: 436, tx: 455, stroke: "#cc0000", width: 4.2, dash: "9,6" },
  { label: legendLabels[2], x0: 675, x1: 738, tx: 753, stroke: "#000", width: 4.6, dash: null }
];
const item = legend.selectAll("g.item").data(legendItems).enter().append("g").attr("class", "item");
item.append("line")
  .attr("x1", d => d.x0).attr("x2", d => d.x1).attr("y1", 53.5).attr("y2", 53.5)
  .attr("stroke", d => d.stroke).attr("stroke-width", d => d.width)
  .attr("stroke-dasharray", d => d.dash);
item.append("text")
  .attr("x", d => d.tx).attr("y", 59.5)
  .style("font-size", "19px").style("letter-spacing", "1.1px")
  .text(d => d.label);
</script>
</body>
</html>
